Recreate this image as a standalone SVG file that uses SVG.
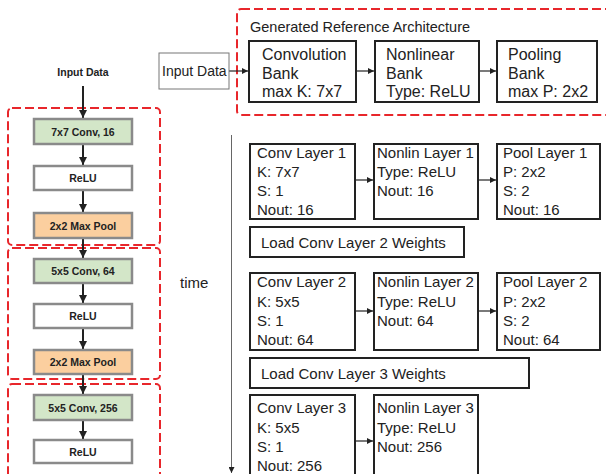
<svg xmlns="http://www.w3.org/2000/svg" width="606" height="474" viewBox="0 0 606 474">
<defs>
<marker id="ah" viewBox="0 0 10 10" refX="10" refY="5" markerWidth="6" markerHeight="6" markerUnits="userSpaceOnUse" orient="auto"><path d="M0,0 L10,5 L0,10 z" fill="#222"/></marker>
<marker id="ahb" viewBox="0 0 10 10" refX="10" refY="5" markerWidth="8" markerHeight="8" markerUnits="userSpaceOnUse" orient="auto"><path d="M0,0 L10,5 L0,10 z" fill="#222"/></marker>
<style>
.dash{fill:none;stroke:#e8262b;stroke-width:2;stroke-dasharray:9,4}
.lb{stroke:#8a8a8a;stroke-width:2.5}
.conv{fill:#d3e6c8}
.relu{fill:#fff}
.pool{fill:#fbcf9f}
.lt{font-family:"Liberation Sans",Arial,sans-serif;font-weight:bold;font-size:10.5px;fill:#222;text-anchor:middle}
.bx{fill:#fff;stroke:#222;stroke-width:2}
.t{font-family:"Liberation Sans",Arial,sans-serif;font-size:15px;fill:#222}
.tb{font-family:"Liberation Sans",Arial,sans-serif;font-size:16px;fill:#222}
.c{stroke:#222;stroke-width:1.2;fill:none}
.cl{stroke:#222;stroke-width:2;fill:none}
</style>
</defs>
<rect width="606" height="474" fill="#fff"/>

<!-- left column dashed groups -->
<rect class="dash" x="8" y="108" width="152" height="137" rx="4"/>
<rect class="dash" x="8" y="248" width="152" height="131" rx="4"/>
<rect class="dash" x="8" y="384" width="152" height="100" rx="4"/>
<rect class="dash" x="237" y="9" width="380" height="106" rx="4"/>

<g id="connectors">
<line class="cl" x1="83" y1="86" x2="83" y2="118" marker-end="url(#ahb)"/>
<line class="cl" x1="83" y1="144" x2="83" y2="165" marker-end="url(#ahb)"/>
<line class="cl" x1="83" y1="190" x2="83" y2="212" marker-end="url(#ahb)"/>
<line class="cl" x1="83" y1="238" x2="83" y2="258" marker-end="url(#ahb)"/>
<line class="cl" x1="83" y1="283" x2="83" y2="303" marker-end="url(#ahb)"/>
<line class="cl" x1="83" y1="328" x2="83" y2="349" marker-end="url(#ahb)"/>
<line class="cl" x1="83" y1="374" x2="83" y2="394" marker-end="url(#ahb)"/>
<line class="cl" x1="83" y1="420" x2="83" y2="439" marker-end="url(#ahb)"/>
<line class="c" x1="229" y1="71" x2="248" y2="71" marker-end="url(#ah)"/>
<line class="c" x1="356" y1="71" x2="374" y2="71" marker-end="url(#ah)"/>
<line class="c" x1="479" y1="71" x2="496" y2="71" marker-end="url(#ah)"/>
<line class="c" x1="355" y1="180" x2="373" y2="180" marker-end="url(#ah)"/>
<line class="c" x1="478" y1="180" x2="496" y2="180" marker-end="url(#ah)"/>
<line class="c" x1="355" y1="311" x2="373" y2="311" marker-end="url(#ah)"/>
<line class="c" x1="478" y1="311" x2="496" y2="311" marker-end="url(#ah)"/>
<line class="c" x1="355" y1="441" x2="373" y2="441" marker-end="url(#ah)"/>
<line x1="231.5" y1="135" x2="231.5" y2="473" stroke="#666" stroke-width="1" marker-end="url(#ah)"/>
</g>

<text x="83" y="76" class="lt">Input Data</text>
<text x="180" y="288" class="t">time</text>

<g id="l-conv1"><rect class="lb conv" x="34" y="119" width="98" height="25"/><text x="83" y="135.5" class="lt">7x7 Conv, 16</text></g>
<g id="l-relu1"><rect class="lb relu" x="34" y="166" width="98" height="24"/><text x="83" y="182" class="lt">ReLU</text></g>
<g id="l-pool1"><rect class="lb pool" x="34" y="213" width="98" height="25"/><text x="83" y="229.5" class="lt">2x2 Max Pool</text></g>
<g id="l-conv2"><rect class="lb conv" x="34" y="259" width="98" height="24"/><text x="83" y="275" class="lt">5x5 Conv, 64</text></g>
<g id="l-relu2"><rect class="lb relu" x="34" y="304" width="98" height="24"/><text x="83" y="320" class="lt">ReLU</text></g>
<g id="l-pool2"><rect class="lb pool" x="34" y="350" width="98" height="24"/><text x="83" y="366" class="lt">2x2 Max Pool</text></g>
<g id="l-conv3"><rect class="lb conv" x="34" y="395" width="98" height="25"/><text x="83" y="411.5" class="lt">5x5 Conv, 256</text></g>
<g id="l-relu3"><rect class="lb relu" x="34" y="440" width="98" height="23"/><text x="83" y="455.5" class="lt">ReLU</text></g>

<g id="input-data"><rect x="159" y="53" width="70" height="36" fill="#fff" stroke="#777" stroke-width="1"/><text x="162" y="76" class="t" style="font-size:14px">Input Data</text></g>

<text x="250" y="32" class="t" style="font-size:14.5px">Generated Reference Architecture</text>

<g id="conv-bank"><rect class="bx" x="249" y="41" width="107" height="61"/><text class="tb" x="262"><tspan x="262" y="60">Convolution</tspan><tspan x="262" y="78.5">Bank</tspan><tspan x="262" y="97">max K: 7x7</tspan></text></g>
<g id="nonlin-bank"><rect class="bx" x="375" y="41" width="104" height="61"/><text class="tb"><tspan x="386" y="60">Nonlinear</tspan><tspan x="386" y="78.5">Bank</tspan><tspan x="386" y="97">Type: ReLU</tspan></text></g>
<g id="pool-bank"><rect class="bx" x="497" y="41" width="100" height="61"/><text class="tb"><tspan x="508" y="60">Pooling</tspan><tspan x="508" y="78.5">Bank</tspan><tspan x="508" y="97">max P: 2x2</tspan></text></g>

<g id="conv1"><rect class="bx" x="250" y="144" width="105" height="75"/><text class="t"><tspan x="257" y="158">Conv Layer 1</tspan><tspan x="257" y="177">K: 7x7</tspan><tspan x="257" y="196">S: 1</tspan><tspan x="257" y="215">Nout: 16</tspan></text></g>
<g id="nonlin1"><rect class="bx" x="374" y="144" width="104" height="75"/><text class="t"><tspan x="377" y="158">Nonlin Layer 1</tspan><tspan x="377" y="177">Type: ReLU</tspan><tspan x="377" y="196">Nout: 16</tspan></text></g>
<g id="pool1"><rect class="bx" x="497" y="144" width="103" height="75"/><text class="t"><tspan x="503" y="158">Pool Layer 1</tspan><tspan x="503" y="177">P: 2x2</tspan><tspan x="503" y="196">S: 2</tspan><tspan x="503" y="215">Nout: 16</tspan></text></g>
<g id="load2"><rect class="bx" x="250" y="227" width="214" height="30"/><text class="t" x="261" y="248">Load Conv Layer 2 Weights</text></g>

<g id="conv2"><rect class="bx" x="250" y="273" width="105" height="77"/><text class="t"><tspan x="257" y="287">Conv Layer 2</tspan><tspan x="257" y="307">K: 5x5</tspan><tspan x="257" y="326">S: 1</tspan><tspan x="257" y="345">Nout: 64</tspan></text></g>
<g id="nonlin2"><rect class="bx" x="374" y="273" width="104" height="77"/><text class="t"><tspan x="377" y="287">Nonlin Layer 2</tspan><tspan x="377" y="307">Type: ReLU</tspan><tspan x="377" y="326">Nout: 64</tspan></text></g>
<g id="pool2"><rect class="bx" x="497" y="273" width="103" height="77"/><text class="t"><tspan x="503" y="287">Pool Layer 2</tspan><tspan x="503" y="307">P: 2x2</tspan><tspan x="503" y="326">S: 2</tspan><tspan x="503" y="345">Nout: 64</tspan></text></g>
<g id="load3"><rect class="bx" x="250" y="358" width="279" height="30"/><text class="t" x="261" y="379">Load Conv Layer 3 Weights</text></g>

<g id="conv3"><rect class="bx" x="250" y="395" width="105" height="90"/><text class="t"><tspan x="257" y="413">Conv Layer 3</tspan><tspan x="257" y="433">K: 5x5</tspan><tspan x="257" y="452">S: 1</tspan><tspan x="257" y="471">Nout: 256</tspan></text></g>
<g id="nonlin3"><rect class="bx" x="374" y="395" width="104" height="90"/><text class="t"><tspan x="377" y="413">Nonlin Layer 3</tspan><tspan x="377" y="433">Type: ReLU</tspan><tspan x="377" y="452">Nout: 256</tspan></text></g>
</svg>
